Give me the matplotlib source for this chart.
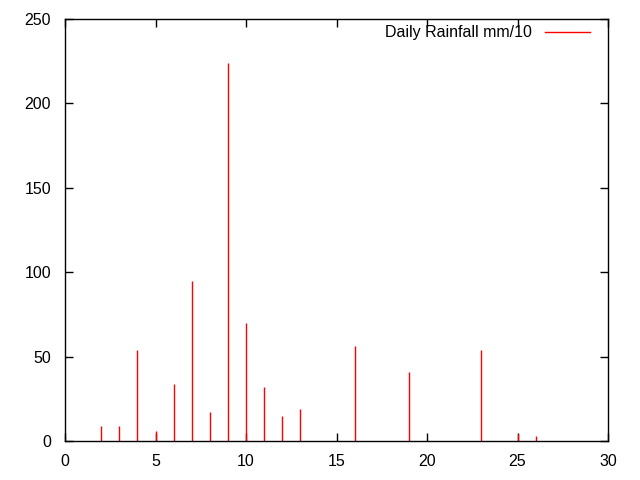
import matplotlib
matplotlib.use("Agg")
import matplotlib.pyplot as plt
from matplotlib.lines import Line2D

days = [2, 3, 4, 5, 6, 7, 8, 9, 10, 11, 12, 13, 16, 19, 23, 25, 26]
rain = [9, 9, 54, 6, 34, 95, 17, 224, 70, 32, 15, 19, 56, 41, 54, 4, 3]
xticks = [0, 5, 10, 15, 20, 25, 30]
yticks = [0, 50, 100, 150, 200, 250]
label = 'Daily Rainfall mm/10'

plt.rcParams['font.family'] = ['Liberation Sans', 'DejaVu Sans']
W, H = 640, 480
fig = plt.figure(figsize=(6.4, 4.8), dpi=100)
ax = fig.add_axes([65/W, 39/H, (608-65)/W, (441-19)/H])
ax.vlines(days, 0, rain, colors='#ff0000', linewidth=1.0)
ax.set_xlim(0, 30)
ax.set_ylim(0, 250)
ax.set_xticks(xticks)
ax.set_yticks(yticks)
ax.tick_params(direction='in', top=True, right=True, length=6, width=1,
               labelsize=11.5, colors='black')
ax.tick_params(axis='x', pad=9.5)
ax.tick_params(axis='y', pad=10)
for s in ax.spines.values():
    s.set_linewidth(1)

# legend (gnuplot style: text right-aligned, then sample line)
ly = (H - 32) / H
fig.text(532/W, ly, label, ha='right', va='center', fontsize=11.5)
fig.add_artist(Line2D([545/W, 590/W], [ly, ly], transform=fig.transFigure,
                      color='#ff0000', linewidth=1.0))
fig.savefig('out.png', dpi=100)
